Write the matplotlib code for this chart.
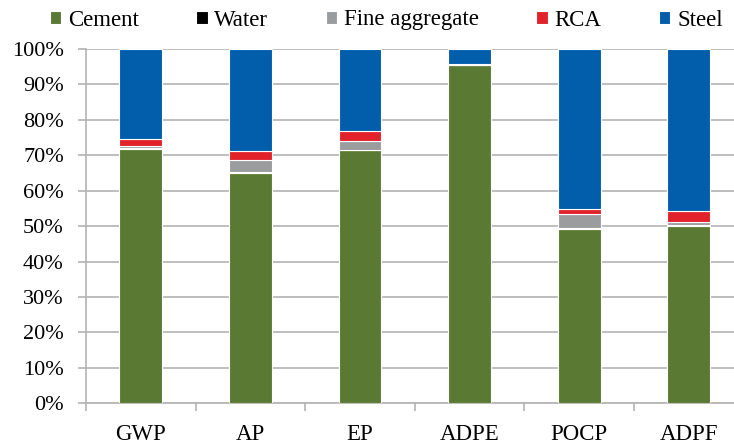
import matplotlib
matplotlib.use('Agg')
import matplotlib.pyplot as plt
import numpy as np

categories = ['GWP', 'AP', 'EP', 'ADPE', 'POCP', 'ADPF']
cement = [71.8, 65.0, 71.4, 95.5, 49.3, 50.0]
water = [0.2, 0.2, 0.1, 0.1, 0.2, 0.2]
fine_aggregate = [0.5, 3.4, 2.4, 0.1, 3.9, 0.9]
rca = [2.1, 2.5, 2.9, 0.1, 1.5, 3.2]
steel = [25.4, 28.9, 23.2, 4.2, 45.1, 45.7]

series = [('Cement', cement, '#5a7a33'),
          ('Water', water, '#000000'),
          ('Fine aggregate', fine_aggregate, '#9b9c9e'),
          ('RCA', rca, '#e1222a'),
          ('Steel', steel, '#025dab')]

plt.rcParams['font.family'] = ['Liberation Serif', 'DejaVu Serif']

fig = plt.figure(figsize=(7.34, 4.45), dpi=100)
ax = fig.add_axes([86 / 734, 41.7 / 445, 657.6 / 734, 354.3 / 445])

x = np.arange(len(categories))
bottom = np.zeros(len(categories))
handles = []
for name, vals, color in series:
    b = ax.bar(x, vals, 0.39, bottom=bottom, color=color, edgecolor='white',
               linewidth=0.8, label=name, zorder=3)
    handles.append(b)
    bottom += np.array(vals)

ax.set_xlim(-0.5, len(categories) - 0.5)
ax.set_ylim(0, 100)
ax.set_yticks(np.arange(0, 101, 10))
ax.set_yticklabels([f'{v}%' for v in range(0, 101, 10)], fontsize=16)
ax.set_xticks(x)
ax.set_xticklabels(categories, fontsize=16.5)
ax.set_xticks(np.arange(-0.5, len(categories)), minor=True)

ax.grid(axis='y', color='#b3b3b3', linewidth=1.2, zorder=0)
for s in ['top', 'right']:
    ax.spines[s].set_visible(False)
for s in ['left', 'bottom']:
    ax.spines[s].set_color('#b3b3b3')
    ax.spines[s].set_linewidth(1.2)
ax.tick_params(axis='y', length=6, width=1.2, color='#b3b3b3', pad=10)
ax.tick_params(axis='x', which='major', length=0, pad=15)
ax.tick_params(axis='x', which='minor', length=6, width=1.2, color='#b3b3b3')

fig.legend(handles=handles, loc='upper center', bbox_to_anchor=(0.526, 1.025),
           ncol=5, frameon=False, fontsize=16.5, handlelength=0.5,
           handleheight=0.5, handletextpad=0.3, columnspacing=2.5)

fig.savefig('out.png', dpi=100)
plt.close(fig)
